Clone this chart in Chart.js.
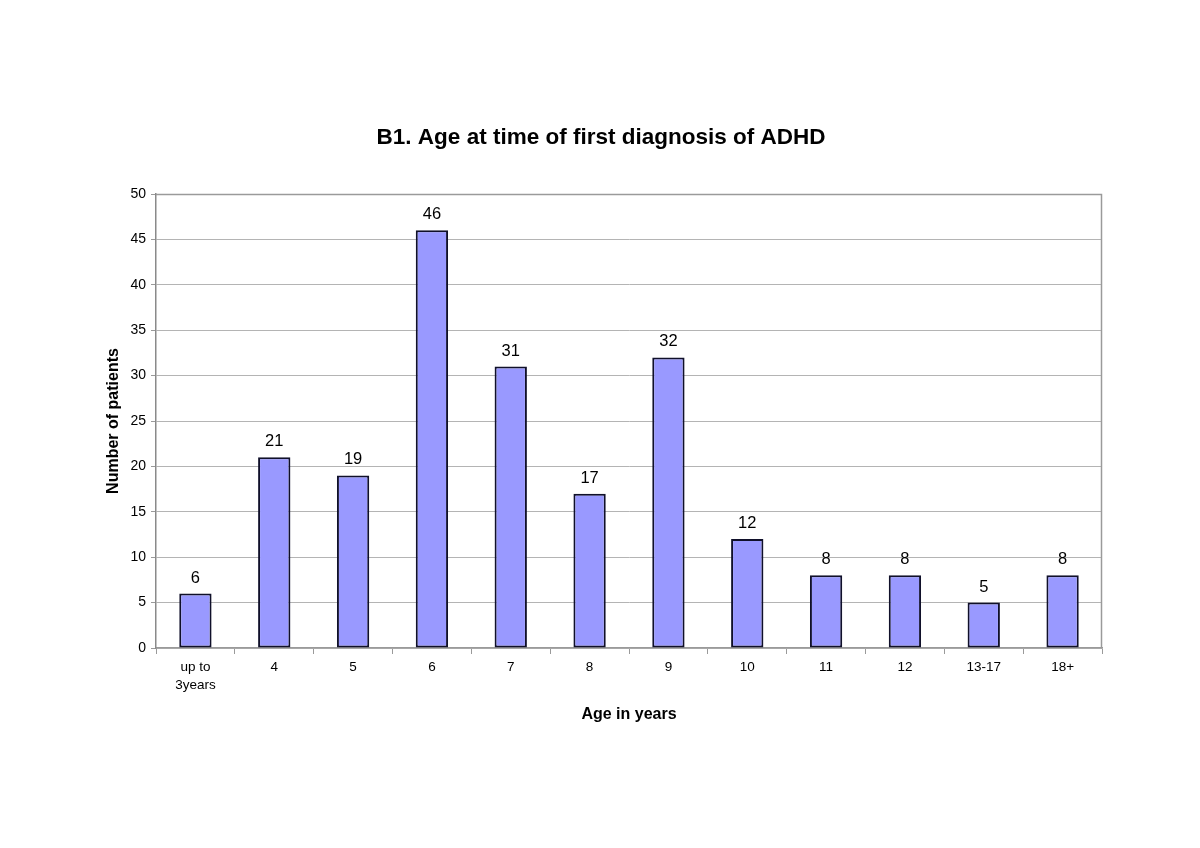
<!DOCTYPE html>
<html>
<head>
<meta charset="utf-8">
<script src="https://cdn.jsdelivr.net/npm/chart.js@4.4.0/dist/chart.umd.min.js"></script>
<style>
  html, body { margin: 0; padding: 0; background: #fff; }
  #wrap { width: 1200px; height: 848px; }
</style>
</head>
<body>
<div id="wrap"><canvas id="ageChart" width="1200" height="848"></canvas></div>
<script>
// Chart data
const ageGroups = [['up to', '3years'], '4', '5', '6', '7', '8', '9', '10', '11', '12', '13-17', '18+'];
const patientCounts = [6, 21, 19, 46, 31, 17, 32, 12, 8, 8, 5, 8];
const yTicks = [0, 5, 10, 15, 20, 25, 30, 35, 40, 45, 50];

const FONT = '"Liberation Sans", Arial, Helvetica, sans-serif';

// value labels above each bar + plot area frame
const barLabels = {
    id: 'barLabels',
    afterDatasetsDraw(chart) {
        const ctx = chart.ctx;
        const meta = chart.getDatasetMeta(0);
        ctx.save();
        ctx.font = '16.5px ' + FONT;
        ctx.fillStyle = '#000';
        ctx.textAlign = 'center';
        ctx.textBaseline = 'alphabetic';
        meta.data.forEach((bar, i) => {
            ctx.fillText(String(patientCounts[i]), bar.x, bar.y - 11);
        });
        ctx.restore();
    },
    beforeDatasetsDraw(chart) {
        const { ctx, chartArea: a } = chart;
        ctx.save();
        ctx.strokeStyle = '#9a9a9a';
        ctx.lineWidth = 1.5;
        ctx.beginPath();
        ctx.moveTo(a.left, a.top + 0.5);
        ctx.lineTo(a.right - 0.5, a.top + 0.5);
        ctx.lineTo(a.right - 0.5, a.bottom);
        ctx.stroke();
        ctx.restore();
    }
};

new Chart(document.getElementById('ageChart').getContext('2d'), {
    type: 'bar',
    data: {
        labels: ageGroups,
        datasets: [{
            data: patientCounts,
            backgroundColor: '#9999ff',
            borderColor: '#10102a',
            borderWidth: 2,
            borderSkipped: false,
            categoryPercentage: 1,
            barPercentage: 0.41
        }]
    },
    options: {
        responsive: false,
        animation: false,
        devicePixelRatio: 1,
        layout: {
            padding: { left: 100, right: 98, top: 120, bottom: 121 }
        },
        plugins: {
            legend: { display: false },
            tooltip: { enabled: false },
            title: {
                display: true,
                text: 'B1. Age at time of first diagnosis of ADHD',
                color: '#000',
                font: { family: FONT, size: 22.5, weight: 'bold', lineHeight: 1.2 },
                padding: { top: 4.5, bottom: 42.5 }
            }
        },
        scales: {
            x: {
                offset: true,
                grid: {
                    offset: true,
                    drawOnChartArea: false,
                    drawTicks: true,
                    tickLength: 6,
                    color: '#9a9a9a'
                },
                border: { color: '#9a9a9a', width: 1.5 },
                ticks: {
                    color: '#000',
                    padding: 4,
                    maxRotation: 0,
                    autoSkip: false,
                    font: { family: FONT, size: 13.5, lineHeight: 1.35 }
                },
                title: {
                    display: true,
                    text: 'Age in years',
                    color: '#000',
                    font: { family: FONT, size: 16, weight: 'bold', lineHeight: 1.2 },
                    padding: { top: 4, bottom: 3 }
                },
                afterFit(scale) { scale.height = 79; }
            },
            y: {
                min: 0,
                max: 50,
                afterBuildTicks(scale) {
                    scale.ticks = yTicks.map(v => ({ value: v }));
                },
                grid: {
                    color: '#b4b4b4',
                    lineWidth: 1,
                    tickLength: 5,
                    tickColor: '#9a9a9a'
                },
                border: { color: '#8a8a8a', width: 1.5 },
                ticks: {
                    color: '#000',
                    padding: 5,
                    font: { family: FONT, size: 14 }
                },
                title: {
                    display: true,
                    text: 'Number of patients',
                    color: '#000',
                    font: { family: FONT, size: 16, weight: 'bold', lineHeight: 1.2 },
                    padding: { top: 4, bottom: 4 }
                },
                afterFit(scale) { scale.width = 56; }
            }
        }
    },
    plugins: [barLabels]
});
</script>
</body>
</html>
